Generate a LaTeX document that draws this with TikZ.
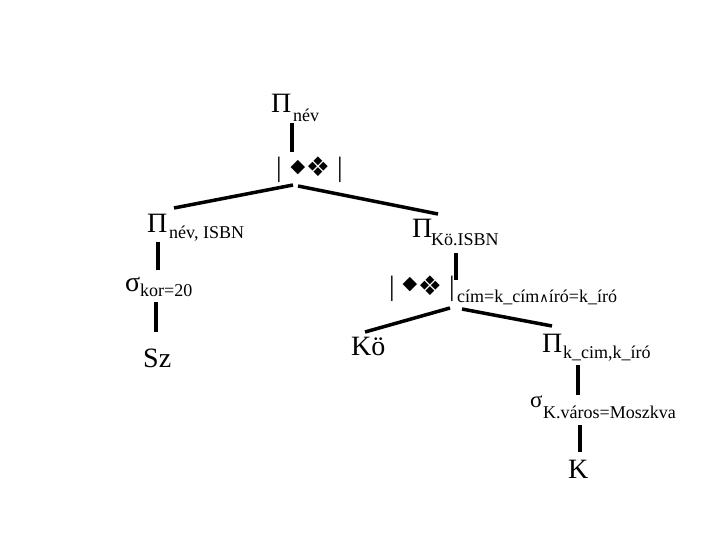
\documentclass[tikz,border=0pt]{standalone}
\usepackage{fontspec}
\setmainfont{Liberation Serif}
\newfontfamily\dejavu{DejaVu Sans}
\tikzset{
  big/.style={font=\fontsize{28}{30}\selectfont, inner sep=0pt, anchor=base west},
  sigbig/.style={font=\fontsize{28}{30}\selectfont, inner sep=0pt, anchor=base west},
  sigsmall/.style={font=\fontsize{23}{25}\selectfont, inner sep=0pt, anchor=base west},
  sub/.style={font=\fontsize{18}{20}\selectfont, inner sep=0pt, anchor=base west},
  edge/.style={line width=3.5pt},
  bar/.style={font=\fontsize{28}{30}\selectfont, inner sep=0pt},
  dia/.style={font=\dejavu\fontsize{19}{21}\selectfont, inner sep=0pt},
  diafour/.style={font=\dejavu\fontsize{27}{29}\selectfont, inner sep=0pt},
}
\begin{document}
\begin{tikzpicture}[x=1pt,y=-1pt]
\useasboundingbox (0,0) rectangle (720,540);
% root projection
\node[big] (p1) at (271,113) {Π};
\node[sub] (p1s) at (293,122) {név};
% join 1
\node[bar] (j1l) at (279,170) {|};
\node[dia] (j1a) at (298,168) {◆};
\node[diafour] (j1b) at (318,167) {❖};
\node[bar] (j1r) at (340,170) {|};
% left branch
\node[big] (p2) at (147,233) {Π};
\node[sub] (p2s) at (169,239) {név, ISBN};
\node[sigbig] (s1) at (125,291) {σ};
\node[sub] (s1s) at (140,296) {kor=20};
\node[big] (sz) at (143,367) {Sz};
% right branch
\node[big] (p3) at (412,237) {Π};
\node[sub] (p3s) at (431,245) {Kö.ISBN};
% join 2
\node[bar] (j2l) at (392,289) {|};
\node[dia] (j2a) at (410,285) {◆};
\node[diafour] (j2b) at (430,286) {❖};
\node[bar] (j2r) at (452,289) {|};
\node[sub] (j2s) at (457,302) {cím=k\_cím{\dejavu\fontsize{13}{15}\selectfont ∧}író=k\_író};
\node[big] (ko) at (351,355) {Kö};
\node[big] (p4) at (542,352) {Π};
\node[sub] (p4s) at (563,358) {k\_cim,k\_író};
\node[sigsmall] (s2) at (530,407) {σ};
\node[sub] (s2s) at (543,418) {K.város=Moszkva};
\node[big] (k) at (568,478) {K};
% connector end points
\coordinate (a1) at (292,123); \coordinate (a2) at (292,152);
\coordinate (b0) at (293,185); \coordinate (b1) at (174,208);
\coordinate (c0) at (298,186); \coordinate (c1) at (438,214);
\coordinate (d0) at (158,242); \coordinate (d1) at (158,270);
\coordinate (e0) at (156,302); \coordinate (e1) at (156,332);
\coordinate (f0) at (456,253); \coordinate (f1) at (456,280);
\coordinate (g0) at (450,308); \coordinate (g1) at (365,332);
\coordinate (h0) at (462,309); \coordinate (h1) at (552,326);
\coordinate (i0) at (578,365); \coordinate (i1) at (578,395);
\coordinate (l0) at (580,425); \coordinate (l1) at (580,452);
\draw[edge] (a1) -- (a2);
\draw[edge] (b0) -- (b1);
\draw[edge] (c0) -- (c1);
\draw[edge] (d0) -- (d1);
\draw[edge] (e0) -- (e1);
\draw[edge] (f0) -- (f1);
\draw[edge] (g0) -- (g1);
\draw[edge] (h0) -- (h1);
\draw[edge] (i0) -- (i1);
\draw[edge] (l0) -- (l1);
\end{tikzpicture}
\end{document}
